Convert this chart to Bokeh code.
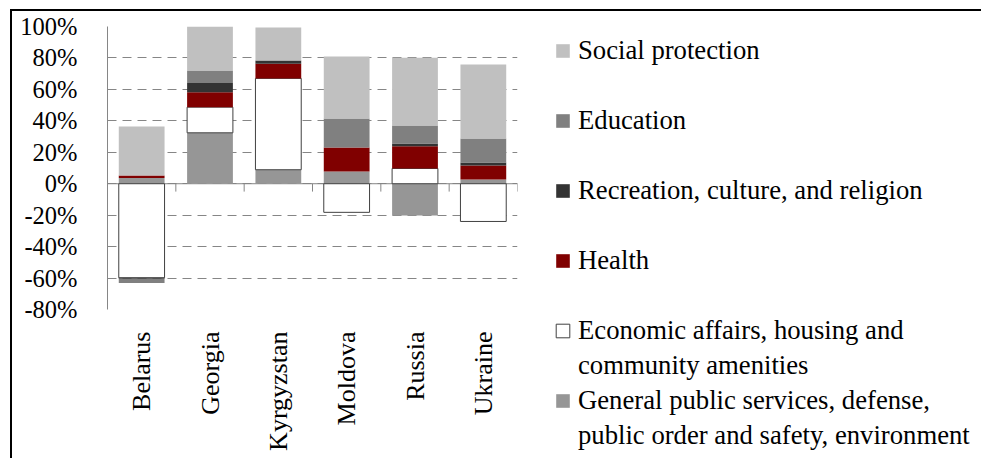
import math
from bokeh.plotting import figure
from bokeh.models import Range1d, FixedTicker, Legend, LegendItem
from bokeh.embed import file_html
from bokeh.resources import INLINE

countries = ["Belarus", "Georgia", "Kyrgyzstan", "Moldova", "Russia", "Ukraine"]

# Shares of expenditure change (%), Excel-style stacking (positives up, negatives down)
general_public = [3.6, 32.4, 8.9, 7.8, -20.2, 2.7]
economic_affairs = [-59.8, 16.3, 58.1, -18.2, 9.7, -24.0]
health = [1.7, 9.5, 9.3, 15.3, 14.2, 8.9]
recreation = [-0.6, 5.8, 1.9, 0.0, 1.7, 1.9]
education = [-2.8, 8.0, 0.3, 18.4, 11.5, 15.3]
social_protection = [31.1, 28.0, 20.9, 39.4, 43.0, 47.0]

y_ticks = [-80, -60, -40, -20, 0, 20, 40, 60, 80, 100]
y_tick_labels = ["-80%", "-60%", "-40%", "-20%", "0%", "20%", "40%", "60%", "80%", "100%"]

series_names = [
    "General public services, defense,",
    "Economic affairs, housing and",
    "Health",
    "Recreation, culture, and religion",
    "Education",
    "Social protection",
]
series_values = [general_public, economic_affairs, health, recreation, education, social_protection]
series_fill = ["#969696", "#FFFFFF", "#800000", "#333333", "#808080", "#C0C0C0"]
series_line = [None, "#404040", None, None, None, None]

FONT = "Liberation Serif"
GRID = "#868686"

p = figure(
    frame_width=410, frame_height=283,
    min_border_left=95, min_border_right=456, min_border_top=15, min_border_bottom=149,
    x_range=Range1d(0, len(countries)), y_range=Range1d(-80, 100),
    output_backend="svg", toolbar_location=None,
)
p.styles = {"border-top": "2px solid black", "border-left": "2px solid black",
            "margin-left": "10px", "margin-top": "9px"}
p.outline_line_color = None
p.background_fill_color = "white"
p.border_fill_color = "white"

# y axis
p.yaxis.ticker = FixedTicker(ticks=y_ticks)
p.yaxis.major_label_overrides = {t: l for t, l in zip(y_ticks, y_tick_labels)}
p.yaxis.major_label_text_font = FONT
p.yaxis.major_label_text_font_size = "24.5px"
p.yaxis.major_label_text_color = "black"
p.yaxis.major_tick_line_color = None
p.yaxis.minor_tick_line_color = None
p.yaxis.axis_line_color = GRID
p.yaxis.major_label_standoff = 24

# x axis (labels only, at category centres)
centres = [i + 0.5 for i in range(len(countries))]
p.xaxis.ticker = FixedTicker(ticks=centres)
p.xaxis.major_label_overrides = {c: n for c, n in zip(centres, countries)}
p.xaxis.major_label_orientation = math.pi / 2
p.xaxis.major_label_text_font = FONT
p.xaxis.major_label_text_font_size = "26px"
p.xaxis.major_label_text_color = "black"
p.xaxis.major_tick_line_color = None
p.xaxis.minor_tick_line_color = None
p.xaxis.axis_line_color = None
p.xaxis.major_label_standoff = 16

p.xgrid.grid_line_color = None
p.ygrid.grid_line_color = GRID
p.ygrid.grid_line_dash = "9 6"
p.ygrid.grid_line_width = 1

# category axis line at zero with boundary tick marks
n = len(countries)
p.segment(x0=[0], y0=[0], x1=[n], y1=[0], line_color=GRID, line_width=1)
bounds = list(range(1, n + 1))
p.segment(x0=bounds, y0=[0] * n, x1=bounds, y1=[-5] * n, line_color=GRID, line_width=1)

# stacked bars
pos = [0.0] * n
neg = [0.0] * n
renderers = {}
for name, vals, fill, line in zip(series_names, series_values, series_fill, series_line):
    xs, bots, tops = [], [], []
    for i, v in enumerate(vals):
        if v == 0:
            continue
        if v > 0:
            b = pos[i]; t = b + v; pos[i] = t
        else:
            b = neg[i]; t = b + v; neg[i] = t
        xs.append(i + 0.5); bots.append(b); tops.append(t)
    r = p.vbar(x=xs, bottom=bots, top=tops, width=0.67, fill_color=fill,
               line_color=line if line else None, line_width=1)
    renderers[name] = r

blank = p.vbar(x=[], top=[], width=0.5, fill_alpha=0, line_alpha=0)

items = [
    LegendItem(label="Social protection", renderers=[renderers["Social protection"]]),
    LegendItem(label=" ", renderers=[blank]),
    LegendItem(label="Education", renderers=[renderers["Education"]]),
    LegendItem(label=" ", renderers=[blank]),
    LegendItem(label="Recreation, culture, and religion", renderers=[renderers["Recreation, culture, and religion"]]),
    LegendItem(label=" ", renderers=[blank]),
    LegendItem(label="Health", renderers=[renderers["Health"]]),
    LegendItem(label=" ", renderers=[blank]),
    LegendItem(label="Economic affairs, housing and", renderers=[renderers["Economic affairs, housing and"]]),
    LegendItem(label="community amenities", renderers=[blank]),
    LegendItem(label="General public services, defense,", renderers=[renderers["General public services, defense,"]]),
    LegendItem(label="public order and safety, environment", renderers=[blank]),
]
legend = Legend(items=items, location=(37, -141.5), padding=0, margin=0, spacing=4,
                glyph_width=17, glyph_height=17, label_height=31, label_standoff=7,
                label_text_font=FONT, label_text_font_size="26.7px", label_text_color="black",
                border_line_color=None, background_fill_alpha=0)
p.add_layout(legend, "right")

open("out.html", "w").write(file_html(p, INLINE))
